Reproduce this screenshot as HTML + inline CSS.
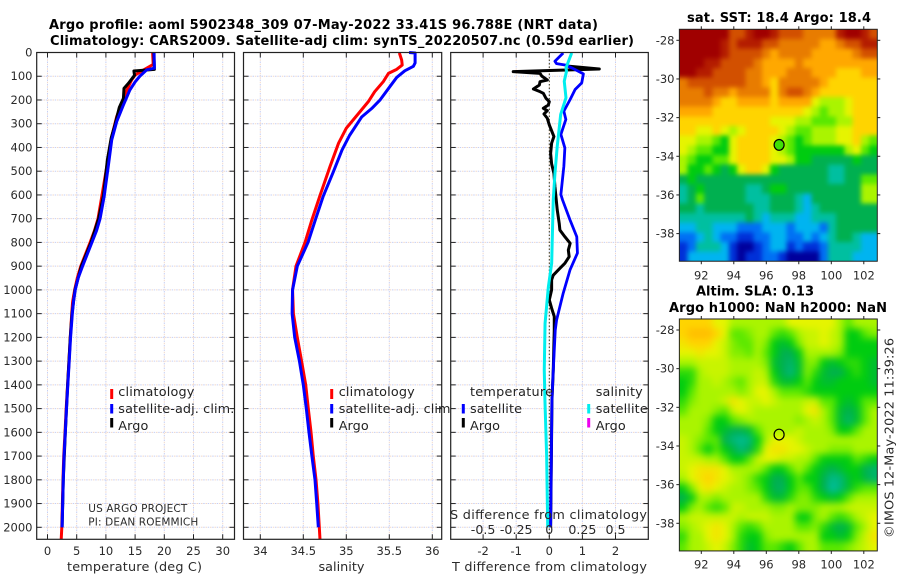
<!DOCTYPE html>
<html lang="en">
<head>
<meta charset="utf-8">
<title>Argo profile chart</title>
<style>
html,body{margin:0;padding:0;background:#fff;}
svg{display:block;font-family:"DejaVu Sans","Liberation Sans",sans-serif;}
text{fill:#2a2a2a;font-size:11.5px;}
.ttl{font-weight:bold;font-size:13px;fill:#000;}
.leg{font-size:12.8px;fill:#222;}
.lab{font-size:12.8px;fill:#2a2a2a;}
.stk{font-size:12.6px;}
</style>
</head>
<body>
<svg id="fig" xmlns="http://www.w3.org/2000/svg" width="900" height="580" viewBox="0 0 900 580">
<defs>
<filter id="blurSst" filterUnits="userSpaceOnUse" x="640" y="0" width="260" height="300" color-interpolation-filters="sRGB"><feGaussianBlur stdDeviation="2.4"/></filter>
<filter id="blurSla" filterUnits="userSpaceOnUse" x="640" y="290" width="260" height="290" color-interpolation-filters="sRGB"><feGaussianBlur stdDeviation="3.6"/></filter>
<clipPath id="clipSst"><rect x="679.3" y="29.3" width="198" height="231.9"/></clipPath>
<clipPath id="clipSla"><rect x="679.3" y="319" width="198" height="231.9"/></clipPath>
</defs>
<rect x="0" y="0" width="900" height="580" fill="#fff"/>
<text class="ttl" x="49" y="29" textLength="549">Argo profile: aoml 5902348_309 07-May-2022 33.41S 96.788E (NRT data)</text>
<text class="ttl" x="50" y="45" textLength="584">Climatology: CARS2009. Satellite-adj clim: synTS_20220507.nc (0.59d earlier)</text>
<g id="p1"></g>
<g id="p1leg">
<line x1="111.7" x2="111.7" y1="389" y2="399" stroke="#f00" stroke-width="3"/>
<text class="leg" x="118.3" y="396" textLength="76">climatology</text>
<line x1="111.7" x2="111.7" y1="404" y2="413.5" stroke="#0000ff" stroke-width="3"/>
<text class="leg" x="118.3" y="413" textLength="116">satellite-adj. clim.</text>
<line x1="111.7" x2="111.7" y1="418" y2="427.5" stroke="#000" stroke-width="3"/>
<text class="leg" x="118.3" y="430" textLength="30">Argo</text>
<text style="font-size:10.5px" x="88.3" y="512" textLength="99">US ARGO PROJECT</text>
<text style="font-size:10.5px" x="88.3" y="525.5" textLength="110">PI: DEAN ROEMMICH</text>
</g>
<g id="p2"></g>
<g id="p2leg">
<line x1="331.7" x2="331.7" y1="389" y2="399" stroke="#f00" stroke-width="3"/>
<text class="leg" x="338.7" y="396" textLength="76">climatology</text>
<line x1="331.7" x2="331.7" y1="404" y2="413.5" stroke="#0000ff" stroke-width="3"/>
<text class="leg" x="338.7" y="413" textLength="116">satellite-adj. clim.</text>
<line x1="331.7" x2="331.7" y1="418" y2="427.5" stroke="#000" stroke-width="3"/>
<text class="leg" x="338.7" y="430" textLength="30">Argo</text>
</g>
<g id="p3"></g>
<g id="p3leg">
<text class="leg" x="470" y="396" textLength="83">temperature</text>
<line x1="463.3" x2="463.3" y1="404" y2="413.5" stroke="#0000ff" stroke-width="3"/>
<text class="leg" x="470" y="413" textLength="52">satellite</text>
<line x1="463.3" x2="463.3" y1="418" y2="427.5" stroke="#000" stroke-width="3"/>
<text class="leg" x="470" y="430" textLength="30">Argo</text>
<text class="leg" x="595.7" y="396" textLength="47">salinity</text>
<line x1="588.7" x2="588.7" y1="404" y2="413.5" stroke="#00eeee" stroke-width="3"/>
<text class="leg" x="595.7" y="413" textLength="52">satellite</text>
<line x1="588.7" x2="588.7" y1="418" y2="427.5" stroke="#ee00ee" stroke-width="3"/>
<text class="leg" x="595.7" y="430" textLength="30">Argo</text>
</g>
<text class="lab" x="67" y="571" textLength="135">temperature (deg C)</text>
<text class="lab" x="318.5" y="571" textLength="46">salinity</text>
<text class="lab" x="452" y="571" textLength="195">T difference from climatology</text>
<text class="lab" x="450" y="519" textLength="197">S difference from climatology</text>
<g id="map1"></g>
<text class="ttl" x="687" y="22" textLength="184">sat. SST: 18.4 Argo: 18.4</text>
<g id="map2"></g>
<text class="ttl" x="696" y="295.5" textLength="118">Altim. SLA: 0.13</text>
<text class="ttl" x="669" y="312" textLength="218">Argo h1000: NaN h2000: NaN</text>
<text class="lab" transform="translate(893.5,538) rotate(-90)" x="0" y="0" textLength="200">©IMOS 12-May-2022 11:39:26</text>
</svg>
<script>
// ---- profile data ----
const depthTicks = [0,100,200,300,400,500,600,700,800,900,1000,1100,1200,1300,1400,1500,1600,1700,1800,1900,2000];
const tempTicks = [0,5,10,15,20,25,30];
const salTicks = [34,34.5,35,35.5,36];
const salTickLabels = ['34','34.5','35','35.5','36'];
const tDiffTicks = [-2,-1,0,1,2];
const sDiffTicks = [-0.5,-0.25,0,0.25,0.5];
const sDiffTickLabels = ['-0.5','-0.25','0','0.25','0.5'];

const tempClimDepth = [0,50,73,95,116,158,214,270,354,466,606,700,750,800,850,900,950,1000,1050,1100,1200,1300,1400,1500,1600,1700,1800,1900,2000,2050];
const tempClim = [18,18.1,16.5,15,14.4,13.6,12.7,11.85,11,10.25,9.3,8.65,8.05,7.3,6.5,5.7,5.1,4.65,4.3,4.15,3.9,3.68,3.44,3.2,3,2.78,2.65,2.55,2.45,2.35];
const tempSatDepth = [0,66,73,100,124,158,221,291,368,480,606,700,750,800,850,900,950,1000,1050,1100,1200,1300,1400,1500,1600,1700,1800,1900,2000];
const tempSat = [18.25,18.3,17,15.8,15,14.1,13,11.85,11,10.4,9.7,9,8.4,7.6,6.8,6,5.25,4.75,4.45,4.25,3.95,3.72,3.48,3.25,3.05,2.83,2.7,2.6,2.5];
const tempArgoDepth = [0,71,78,96,130,151,193,231,305,361,453,600,700,800,900,1000,1100,1200,1400,1600,1800,2000];
const tempArgo = [18.2,18.3,14.8,14.9,13.85,13.1,13,12.3,11.55,10.9,10.25,9.6,8.75,7.45,5.8,4.7,4.2,3.9,3.45,3.05,2.7,2.5];

const salClimDepth = [2,32,53,71,88,123,165,207,249,319,382,481,607,705,800,900,1000,1100,1200,1300,1400,1500,1600,1700,1800,1900,2000,2050];
const salClim = [35.617,35.644,35.65,35.586,35.49,35.43,35.33,35.256,35.16,35,34.91,34.81,34.69,34.6,34.52,34.415,34.375,34.385,34.43,34.48,34.528,34.558,34.59,34.616,34.648,34.67,34.686,34.694];
const salSatDepth = [0,2,44,58,77,105,152,201,236,271,348,411,502,607,705,800,900,1000,1100,1200,1300,1400,1500,1600,1700,1800,1900,2000];
const salSat = [35.73,35.8,35.8,35.78,35.68,35.586,35.49,35.39,35.295,35.18,35.04,34.95,34.85,34.73,34.64,34.555,34.43,34.375,34.37,34.4,34.455,34.5,34.535,34.566,34.6,34.636,34.656,34.675];

const diffTSatDepth = [2,37,47,53,65,90,128,156,198,247,282,345,402,479,598,621,705,776,845,916,1014,1127,1169,1337,1464,2000];
const diffTSat = [0.42,0.17,0.22,0.5,0.68,1.03,0.98,0.78,0.63,0.44,0.5,0.35,0.47,0.44,0.35,0.4,0.625,0.83,0.85,0.625,0.42,0.22,0.18,0.12,0.08,0.04];
const diffSSatDepth = [2,65,79,121,191,261,395,507,620,704,888,987,1141,1337,1464,1700,2000];
const diffSSat = [0.169,0.126,0.13,0.113,0.126,0.086,0.06,0.043,0.03,0.026,0.018,-0.007,-0.032,-0.038,-0.033,-0.02,-0.012];
const diffTArgoDepth = [57,69.5,80.7,87.7,99,115.8,122.9,137,153.8,165,172,193,207,221,235,245,259,277,305,354,382,425,469,509,565,621,663,720,748,776,804,832,860,888,909,938,958,1000,1042,1077,1112,1169,1337,1464,2000];
const diffTArgo = [0.52,1.51,-1.09,-0.28,-0.23,-0.06,-0.28,-0.3,-0.48,-0.28,-0.18,-0.1,0,-0.03,-0.18,-0.06,-0.16,-0.06,0,0.14,0.07,0.04,0.07,0.14,0.17,0.21,0.24,0.3,0.32,0.47,0.63,0.575,0.6,0.47,0.32,0.12,0.07,0.07,0,0.07,0.15,0.15,0.12,0.08,0.04];

// ---- map data (colour level on the map's colour scale) ----
const mapLonTicks = [92,94,96,98,100,102];
const mapLatTicks = [-28,-30,-32,-34,-36,-38];
const sstGrid = [
[15,15,15,15,15,15,13,13,14,15,15,14,13,13,13,12,12,12,12,14,15,15,14,13],
[15,15,15,15,15,14,13,14,14,14,13,13,12,12,12,12,12,11,11,12,13,13,14,14],
[15,15,15,15,15,14,13,13,13,13,12,11,12,12,12,12,11,11,11,11,11,12,13,13],
[15,15,15,14,14,13,13,13,13,12,11,11,11,11,12,11,11,11,11,11,11,11,11,11],
[15,15,14,14,13,13,13,13,12,12,11,11,11,12,12,12,11,11,11,10,10,10,11,11],
[12,13,13,13,13,13,13,13,12,12,11,10,12,12,12,12,12,11,10,10,10,10,10,10],
[12,12,12,13,12,12,11,12,12,12,12,10,12,13,13,12,11,10,10,10,10,10,10,10],
[12,12,12,12,11,10,10,11,11,11,11,10,11,11,11,11,9,8,8,8,9,10,10,10],
[11,11,11,11,10,10,10,10,10,10,10,10,10,10,10,9,8,7,8,8,9,10,10,10],
[10,10,10,10,10,10,10,10,10,10,10,9,9,9,8,8,7,7,7,8,8,10,10,10],
[10,10,9,9,10,9,8,9,10,10,10,10,9,8,7,7,8,8,8,9,9,10,10,10],
[9,9,8,8,7,6,9,10,10,10,10,9,8,7,6,7,8,8,8,9,9,10,8,7],
[9,8,7,7,6,6,9,10,10,10,10,9,8,7,6,6,6,6,6,6,8,9,7,6],
[8,7,6,6,7,7,9,10,10,10,10,9,9,8,6,6,5,5,5,5,5,6,5,5],
[8,6,6,7,6,5,6,9,10,10,9,6,5,5,5,5,5,5,4,4,5,5,5,5],
[5,6,5,5,5,5,5,5,5,5,5,5,5,5,5,5,5,5,4,4,5,5,7,7],
[4,5,6,5,5,5,5,5,4,4,5,6,6,5,5,5,5,5,5,5,5,5,8,8],
[4,5,7,5,5,5,5,5,4,4,4,5,5,5,4,3,5,5,5,5,5,5,8,8],
[5,5,4,5,5,5,5,5,5,4,4,5,5,5,4,3,4,5,5,5,5,5,5,5],
[4,4,4,4,4,4,4,4,5,4,3,4,4,4,3,3,4,4,4,5,5,5,5,5],
[3,3,4,4,3,3,3,2,2,2,3,3,3,2,3,3,3,2,4,5,5,5,5,5],
[2,2,3,4,3,2,2,1,1,2,2,3,3,2,2,3,2,3,4,5,5,4,3,3],
[1,2,4,4,4,3,1,0,0,1,2,3,3,1,2,1,1,2,4,4,4,4,3,3],
[1,3,3,3,3,3,1,0,1,1,2,2,1,0,0,0,0,2,4,4,4,3,3,3]
];
const slaGrid = [
[10,10,10,10,9,9,8,8,8,8,8,8,8,9,9,9,9,9,9,8,7,8,8,8],
[10,10.5,10.5,10.5,10,9,7,7,7.5,8,8,7,6.5,7,8,8.5,8.5,9,8.5,8,6,6,7,7.5],
[9.5,10,10,10,9,8.5,7.5,7,7,8,7.5,6,5.5,6,7.5,8.5,8.5,9,8.5,8,6,6,6,6],
[9,9,9.5,9,9,8.5,7.5,7.5,7,8,7,6,5,5,6,8,8,8,8,7.5,6,6,6,6],
[8,8,8.5,8.5,8.5,8.5,8,8,8,8,7.5,5.5,5,4.7,5.5,7.5,7.5,6,5.5,6,6.5,6.5,6,5.5],
[6.5,6.5,8,8.5,8.5,8.5,8,8,8,8.5,8,6,5,4.5,5.5,7.5,6.5,5.5,5,5,6,6.5,6,5.5],
[6,6.5,8,8,8.5,8,7.5,7,8,8.5,8.5,6.5,5.5,5.5,6,7,6,5.5,5.5,6,6,6,6,5.5],
[6,7,8,8,8,8,8,7.5,8,9,9,8,7,7,7,6.5,6,6,6,6,6,6,6,6],
[6.5,7.5,8,8,8,8.5,9.5,9,8.5,8.5,9,8.5,8,8,8,8.5,8.5,7,7,6,5.5,6,7,7],
[7,8,8,8,7.5,7,8.5,9,8.5,8,8,8,8,8,8,9,9.5,8,7,5.5,5,5.5,7,8],
[8,8,8,7.5,6,6,7,7.5,8,8,8,8,8,8,7.5,8,8.5,8,7,5.5,4.7,5.5,7,8],
[8,8,8,7,6,5.5,5,5,5.5,7,8,8,8,8,8.5,8,8,8,7.5,6,6,7,8,8],
[8.5,8,7.5,7,7,5,4.5,4.2,4.5,6,8,9,9,9,8.5,8,8,8,8,8,8,8,8,8],
[8.5,8,7,6,7,6,5.2,4.5,5,6.5,9,9.5,9.5,9,9,8.5,8,8,7.5,7.5,7.5,8,8,8],
[8.5,8.5,8.5,8,8,7,6,6,7,8.5,9,9,8.5,8.5,8,8,7,6,6,6,6,7,6.5,6],
[8.5,9,9.5,9.5,9.5,9,8,8,8,8,7,6,6,7,8,7,6,5.5,5,5.5,6,6,5,4.7],
[8,9,9.5,10,9.5,9,8.5,8,7.5,6.5,6,5,5,6,7,6,6,5,4.3,4.5,5.5,6,5.2,4.7],
[6,7.5,9,9.5,9,8.5,8,8,7.5,7,6,5,4.8,6,7,7,6,5,4,4.5,5.5,6.5,7,7],
[5,6,8,8,7.5,8,8,8,8,8,6.5,5.5,5.5,6.5,7.5,7.5,6.5,6,5.5,6,7,8,8,8],
[6,7.5,8,7,6.5,7,8.5,8.5,8,8,8,7.5,7.5,8,7.5,7.5,7.5,8,8,8,8.5,8.5,8.5,8.5],
[8,8.5,8.5,8.5,8.5,8.5,8.5,8,8.5,8.5,8.5,8,8,8,6,6,7.5,8,7,6.5,7,8,8.5,9],
[7.5,8,8.5,9,9.5,9,8,7,6.5,7,8,8,8,8,7,7,7.5,6.5,5.5,5,5.5,7,8,9],
[6.5,8,8,9,9.5,9,8,6.5,6,6,7.5,8,8,8,8,8,8,6,6,5.5,6,7.5,8.5,9.5],
[7,8,8,8.5,9,8.5,7.5,6.5,5.5,6,7,7,6.5,6,7,8,8,7,7,7,7.5,8,8.5,9]
];
const floatLon = [96.788];
const floatLat = [-33.41];
const floatLevel = [6.7];

// ---- drawing ----
const NS = 'http://www.w3.org/2000/svg';
function mk(tag, parent, attrs) {
  const el = document.createElementNS(NS, tag);
  for (const k in attrs) el.setAttribute(k, attrs[k]);
  parent.appendChild(el);
  return el;
}
const PTOP = 52.5, PBOT = 539.3;
function yDepth(d) { return PTOP + d * 0.2374; }
function xTemp(t) { return 47.5 + t * 5.84; }
function xSal(s) { return 260.3 + (s - 34) * 86; }
function xDiffT(t) { return 549.3 + t * 33.1; }
function xDiffS(s) { return 549.3 + s * 132.4; }
const P1 = {l:36.7, r:234.5};
const P2 = {l:243.5, r:441.7};
const P3 = {l:450.7, r:648.3};

function panel(g, box, xTicks, xFn) {
  const bg = mk('rect', g, {x:box.l, y:PTOP, width:box.r-box.l, height:PBOT-PTOP, fill:'#fff'});
  
  
  const grid = mk('g', g, {});
  
  
  function gridLine(x1, y1, x2, y2) {
    const a = mk('line', grid, {x1:x1, y1:y1, x2:x2, y2:y2, stroke:'#c6cff4', 'stroke-width':1, 'stroke-dasharray':'1.5 3'});
    
    
    const b = mk('line', grid, {x1:x1, y1:y1, x2:x2, y2:y2, stroke:'#f0d8ca', 'stroke-width':1, 'stroke-dasharray':'1.5 3', 'stroke-dashoffset':2.2});
    
    
  }
  xTicks.forEach(function (t) { gridLine(xFn(t), PTOP, xFn(t), PBOT); });
  depthTicks.forEach(function (d) { gridLine(box.l, yDepth(d), box.r, yDepth(d)); });
}
function frame(g, box, xTicks, xFn) {
  const c = '#222';
  const r = mk('rect', g, {x:box.l, y:PTOP, width:box.r-box.l, height:PBOT-PTOP, fill:'none', stroke:c, 'stroke-width':1.2});
  
  
  xTicks.forEach(function (t) {
    const x = xFn(t);
    [[PTOP, PTOP+5],[PBOT, PBOT-5]].forEach(function (p) {
      const k = mk('line', g, {x1:x, x2:x, y1:p[0], y2:p[1], stroke:c, 'stroke-width':1});
      
      
    });
  });
  depthTicks.forEach(function (d) {
    const y = yDepth(d);
    [[box.l, box.l+5],[box.r, box.r-5]].forEach(function (p) {
      const k = mk('line', g, {y1:y, y2:y, x1:p[0], x2:p[1], stroke:c, 'stroke-width':1});
      
      
    });
  });
}
function series(g, name, depths, values, xFn, color, w) {
  const pts = depths.map(function (d, i) { return xFn(values[i]).toFixed(2) + ',' + yDepth(d).toFixed(2); }).join(' ');
  const pl = mk('polyline', g, {points:pts, fill:'none', stroke:color, 'stroke-width':w, 'stroke-linejoin':'round'});
  
  
}
function xLabels(g, ticks, labels, xFn, y, cls) {
  ticks.forEach(function (t, i) {
    const tx = mk('text', g, {x:xFn(t), y:y, 'text-anchor':'middle'});
    if (cls) tx.setAttribute('class', cls);
    
    
    tx.textContent = labels[i];
  });
}

const p1 = document.getElementById('p1');
panel(p1, P1, tempTicks, xTemp);
series(p1, 'temperature-climatology-line', tempClimDepth, tempClim, xTemp, '#ff0000', 3);
series(p1, 'temperature-argo-line', tempArgoDepth, tempArgo, xTemp, '#000000', 3);
series(p1, 'temperature-satellite-line', tempSatDepth, tempSat, xTemp, '#0000ff', 3);
frame(p1, P1, tempTicks, xTemp);
xLabels(p1, tempTicks, tempTicks.map(String), xTemp, 555);
depthTicks.forEach(function (d) {
  const tx = mk('text', p1, {x:32.5, y:yDepth(d)+4, 'text-anchor':'end'});
  
  
  tx.textContent = String(d);
});

const p2 = document.getElementById('p2');
panel(p2, P2, salTicks, xSal);
series(p2, 'salinity-climatology-line', salClimDepth, salClim, xSal, '#ff0000', 3);
series(p2, 'salinity-satellite-line', salSatDepth, salSat, xSal, '#0000ff', 3);
frame(p2, P2, salTicks, xSal);
xLabels(p2, salTicks, salTickLabels, xSal, 555);

const p3 = document.getElementById('p3');
panel(p3, P3, tDiffTicks, xDiffT);
const zero = mk('line', p3, {x1:xDiffT(0), x2:xDiffT(0), y1:PTOP, y2:PBOT, stroke:'#3a3a1e', 'stroke-width':1, 'stroke-dasharray':'1.5 2'});


series(p3, 'difference-temperature-argo-line', diffTArgoDepth, diffTArgo, xDiffT, '#000000', 3);
series(p3, 'difference-temperature-satellite-line', diffTSatDepth, diffTSat, xDiffT, '#0000ff', 2.8);
series(p3, 'difference-salinity-satellite-line', diffSSatDepth, diffSSat, xDiffS, '#00eeee', 3);
frame(p3, P3, tDiffTicks, xDiffT);
xLabels(p3, tDiffTicks, tDiffTicks.map(String), xDiffT, 555);
xLabels(p3, sDiffTicks, sDiffTickLabels, xDiffS, 534, 'stk');

// colour scale stops: level index -> colour
const levelStops = ['#00009c','#0030d8','#0070f4','#00b4f0','#00bfa0','#00b050','#00cc10','#5ae800','#aaf400','#e6f400','#ffd400','#ffa800','#e87c00','#d25000','#b41c00','#a00000'];
function hex2(c, i) { return parseInt(c.substr(1 + i * 2, 2), 16); }
function levelColor(v) {
  const a = Math.max(0, Math.min(levelStops.length - 1, v));
  const i = Math.min(levelStops.length - 2, Math.floor(a));
  const f = a - i;
  const ch = [0,1,2].map(function (k) { return Math.round(hex2(levelStops[i], k) * (1 - f) + hex2(levelStops[i + 1], k) * f); });
  return 'rgb(' + ch.join(',') + ')';
}
function lonX(lon) { return 701.3 + (lon - 92) * 16.25; }
function latY(lat, lat28) { return lat28 + (-28 - lat) * 19.33; }
function drawMap(g, grid, lat28, labelY, cellName, fillLevel, clipId, filterId) {
  const lonL = 90.65, lonR = 102.83, latT = -27.43, latB = -39.43;
  const rows = grid.length, cols = grid[0].length;
  const dLon = (lonR - lonL) / cols, dLat = (latT - latB) / rows;
  const clip = mk('g', g, {'clip-path':'url(#' + clipId + ')'});
  
  
  const cells = mk('g', clip, {filter:'url(#' + filterId + ')'});
  
  
  const bleed = 14;
  grid.forEach(function (row, r) {
    row.forEach(function (v, c) {
      let x0 = lonX(lonL + c * dLon), x1 = lonX(lonL + (c + 1) * dLon) + 0.4;
      let y0 = latY(latT - r * dLat, lat28), y1 = latY(latT - (r + 1) * dLat, lat28) + 0.4;
      if (c === 0) x0 -= bleed;
      if (c === cols - 1) x1 += bleed;
      if (r === 0) y0 -= bleed;
      if (r === rows - 1) y1 += bleed;
      const cell = mk('rect', cells, {x:x0.toFixed(2), y:y0.toFixed(2), width:(x1 - x0).toFixed(2), height:(y1 - y0).toFixed(2), fill:levelColor(v), 'shape-rendering':'crispEdges'});
      
      
    });
  });
  const bx0 = lonX(lonL), bx1 = lonX(lonR), by0 = latY(latT, lat28), by1 = latY(latB, lat28);
  const fr = mk('rect', g, {x:bx0, y:by0, width:bx1 - bx0, height:by1 - by0, fill:'none', stroke:'#222', 'stroke-width':1});
  
  
  mapLonTicks.forEach(function (lon) {
    const x = lonX(lon);
    [[by0, by0 - 3],[by1, by1 + 3]].forEach(function (p) {
      const k = mk('line', g, {x1:x, x2:x, y1:p[0], y2:p[1], stroke:'#222', 'stroke-width':1});
      
      
    });
    const t = mk('text', g, {x:x, y:labelY, 'text-anchor':'middle'});
    
    
    t.textContent = String(lon);
  });
  mapLatTicks.forEach(function (lat) {
    const y = latY(lat, lat28);
    [[bx0, bx0 - 3],[bx1, bx1 + 3]].forEach(function (p) {
      const k = mk('line', g, {y1:y, y2:y, x1:p[0], x2:p[1], stroke:'#222', 'stroke-width':1});
      
      
    });
    const t = mk('text', g, {x:674.5, y:y + 4, 'text-anchor':'end'});
    
    
    t.textContent = String(lat);
  });
  const circ = mk('ellipse', g, {cx:lonX(floatLon[0]), cy:latY(floatLat[0], lat28), rx:5, ry:5.4, fill:fillLevel === null ? 'none' : levelColor(fillLevel), stroke:'#000', 'stroke-width':1.2});
  
  
}
drawMap(document.getElementById('map1'), sstGrid, 40.3, 279.5, 'sst-cell', floatLevel[0], 'clipSst', 'blurSst');
drawMap(document.getElementById('map2'), slaGrid, 330, 568.5, 'sla-cell', null, 'clipSla', 'blurSla');
</script>
</body>
</html>
